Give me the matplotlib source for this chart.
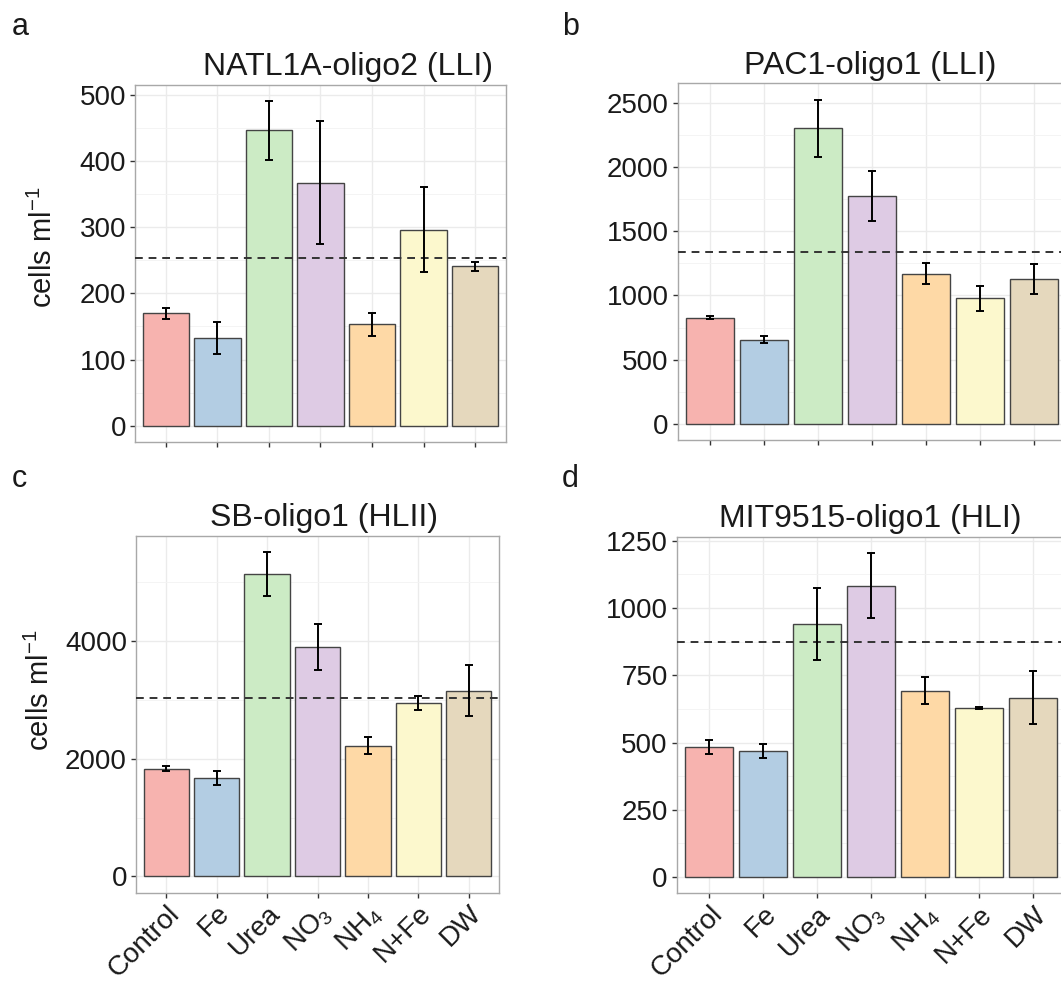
import numpy as np
import matplotlib.pyplot as plt
from matplotlib.ticker import MultipleLocator

plt.rcParams['font.family'] = ['Liberation Sans', 'DejaVu Sans']
plt.rcParams['mathtext.fontset'] = 'custom'
plt.rcParams['mathtext.rm'] = 'Liberation Sans'
plt.rcParams['mathtext.it'] = 'Liberation Sans:italic'
plt.rcParams['mathtext.default'] = 'regular'

# behandlingar och färger
categories = ['Control', 'Fe', 'Urea', 'NO$_3$', 'NH$_4$', 'N+Fe', 'DW']
colors = ['#F7B3AF', '#B3CDE3', '#CCEBC5', '#DECBE4', '#FED9A6', '#FCF8CD', '#E5D8BD']

# a: NATL1A-oligo2 (LLI)
natl_mean = [170, 132, 446, 367, 153, 296, 241]
natl_err = [8, 24, 44, 93, 17, 64, 7]
natl_ref = 254

# b: PAC1-oligo1 (LLI)
pac_mean = [828, 654, 2302, 1775, 1170, 978, 1130]
pac_err = [12, 27, 225, 193, 83, 98, 117]
pac_ref = 1340

# c: SB-oligo1 (HLII)
sb_mean = [1830, 1675, 5134, 3892, 2223, 2944, 3154]
sb_err = [43, 115, 370, 390, 141, 118, 434]
sb_ref = 3024

# d: MIT9515-oligo1 (HLI)
mit_mean = [483, 469, 941, 1083, 693, 628, 667]
mit_err = [27, 25, 134, 122, 51, 3, 99]
mit_ref = 873

titles = ['NATL1A-oligo2 (LLI)', 'PAC1-oligo1 (LLI)', 'SB-oligo1 (HLII)', 'MIT9515-oligo1 (HLI)']
letters = ['a', 'b', 'c', 'd']
steps = [100, 500, 2000, 250]


def draw_panel(ax, means, errs, ref, step, title, title_x, bottom_row):
    x = np.arange(len(categories))
    means = np.array(means)
    errs = np.array(errs)
    ax.bar(x, means, width=0.9, color=colors, edgecolor='#444444', linewidth=1.0, zorder=2)
    ax.errorbar(x, means, yerr=errs, fmt='none', ecolor='black', elinewidth=1.4,
                capsize=3, capthick=1.4, zorder=4)
    ax.axhline(ref, color='#333333', ls=(0, (4, 3)), lw=1.4, zorder=3)

    top = (means + errs).max()
    ax.set_ylim(-0.05 * top, 1.05 * top)
    ax.set_xlim(-0.6, len(categories) - 0.4)
    ax.yaxis.set_major_locator(MultipleLocator(step))
    ax.yaxis.set_minor_locator(MultipleLocator(step / 2))
    ax.grid(which='major', color='#EBEBEB', lw=1.0, zorder=0)
    ax.grid(which='minor', axis='y', color='#F3F3F3', lw=0.6, zorder=0)
    ax.set_axisbelow(True)
    for s in ax.spines.values():
        s.set_color('#A8A8A8')
        s.set_linewidth(1.0)

    ax.tick_params(which='major', length=3.5, width=1, color='#333333',
                   labelsize=20, labelcolor='#1a1a1a', pad=3)
    ax.tick_params(axis='x', which='major', pad=2)
    ax.tick_params(which='minor', length=0)
    ax.set_xticks(x)
    if bottom_row:
        ax.set_xticklabels(categories, rotation=45, ha='right', va='top',
                           rotation_mode='anchor', fontsize=20)
    else:
        ax.set_xticklabels([])
    ax.set_title(title, fontsize=23, x=title_x, pad=7, color='#1a1a1a')


fig = plt.figure(figsize=(10.61, 9.81), dpi=100)

rects = [(0.1272, 0.5494, 0.3497, 0.3639),
         (0.6387, 0.5515, 0.3665, 0.3636),
         (0.1282, 0.0900, 0.3421, 0.3636),
         (0.6378, 0.0894, 0.3665, 0.3636)]
title_xs = [0.574, 0.495, 0.518, 0.497]
panel_data = [(natl_mean, natl_err, natl_ref),
              (pac_mean, pac_err, pac_ref),
              (sb_mean, sb_err, sb_ref),
              (mit_mean, mit_err, mit_ref)]

axes = []
for i in range(4):
    ax = fig.add_axes(rects[i])
    means, errs, ref = panel_data[i]
    draw_panel(ax, means, errs, ref, steps[i], titles[i], title_xs[i], i >= 2)
    axes.append(ax)

axes[0].set_ylabel('cells ml$^{-1}$', fontsize=21, color='#1a1a1a')
axes[0].yaxis.set_label_coords(-0.208, 0.546)
axes[2].set_ylabel('cells ml$^{-1}$', fontsize=21, color='#1a1a1a')
axes[2].yaxis.set_label_coords(-0.222, 0.567)

# panelbokstäver
letter_pos = [(12, 35), (562, 35), (12, 487), (562, 487)]
for (px, py), lab in zip(letter_pos, letters):
    fig.text(px / 1061, 1 - py / 981, lab, fontsize=22, ha='left', va='baseline', color='#1a1a1a')

fig.savefig('out.png', dpi=100)
